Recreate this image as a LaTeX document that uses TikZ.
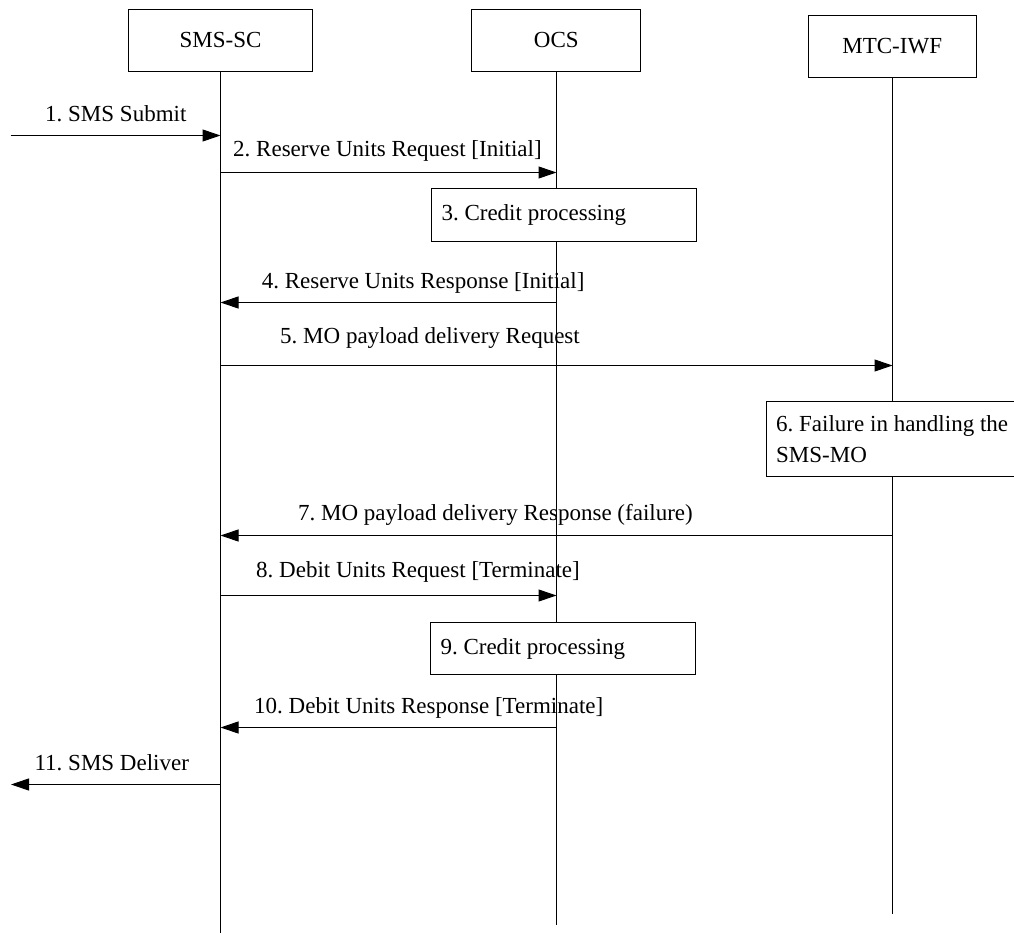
\documentclass[tikz,border=0pt]{standalone}
\usepackage{fontspec}
\setmainfont{Liberation Serif}
\usetikzlibrary{arrows.meta}
\begin{document}
\frenchspacing
\begin{tikzpicture}[x=1pt,y=-1pt,
  every node/.style={font=\frenchspacing\fontsize{23}{31}\selectfont, inner sep=0pt},
  party/.style={draw, line width=1pt, minimum height=62.5pt},
  life/.style={line width=1pt},
  msg/.style={line width=1pt, -{Triangle[length=18pt,width=12pt]}},
  procbox/.style={draw, fill=white, line width=1pt, anchor=north west, align=flush left, text width=245pt, inner xsep=10pt, minimum height=52.4pt},
  lbl/.style={anchor=base west},
  lble/.style={anchor=base east}]
\useasboundingbox (0,0) rectangle (1014,933);
\clip (0,0) rectangle (1014,933);

% participants
\node[party, minimum width=183.3pt] (sc) at (220.5,40.5) {SMS-SC};
\node[party, minimum width=168.7pt] (ocs) at (556.3,40.4) {OCS};
\node[party, minimum width=167.7pt] (iwf) at (892.2,46.4) {MTC-IWF};

% lifeline ends
\coordinate (scEnd) at (220.5,933);
\coordinate (ocsEnd) at (556.5,924.7);
\coordinate (iwfEnd) at (892.5,914);
\draw[life] (sc.south -| scEnd) -- (scEnd);
\draw[life] (ocs.south -| ocsEnd) -- (ocsEnd);
\draw[life] (iwf.south -| iwfEnd) -- (iwfEnd);

% processing boxes
\node[procbox] (p3) at (431,188.3) {3. Credit processing};
\node[procbox] (p9) at (430,622) {9. Credit processing};
\node[draw, fill=white, line width=1pt, anchor=west, align=flush left, text width=250pt, inner xsep=9.7pt, minimum height=75pt] (p6) at (766,439.2) {6. Failure in handling the\\SMS-MO};

% message end points
\coordinate (in1) at (10.7,135.5);
\coordinate (a1) at (220.5,135.5);
\coordinate (a2s) at (220.5,172.5); \coordinate (a2e) at (556.5,172.5);
\coordinate (a4s) at (556.5,302.5); \coordinate (a4e) at (220.5,302.5);
\coordinate (a5s) at (220.5,365.5); \coordinate (a5e) at (892.5,365.5);
\coordinate (a7s) at (892.5,535.5); \coordinate (a7e) at (220.5,535.5);
\coordinate (a8s) at (220.5,595.5); \coordinate (a8e) at (556.5,595.5);
\coordinate (a10s) at (556.5,727.5); \coordinate (a10e) at (220.5,727.5);
\coordinate (a11s) at (220.5,784.5); \coordinate (out11) at (11,784.5);

\draw[msg] (in1) -- (a1);
\draw[msg] (a2s) -- (a2e);
\draw[msg] (a4s) -- (a4e);
\draw[msg] (a5s) -- (a5e);
\draw[msg] (a7s) -- (a7e);
\draw[msg] (a8s) -- (a8e);
\draw[msg] (a10s) -- (a10e);
\draw[msg] (a11s) -- (out11);

% labels
\node[lbl] (l1) at (45,121.7) {1. SMS Submit};
\node[lbl] (l2) at (233,157) {2. Reserve Units Request [Initial]};
\node[lbl] (l4) at (261.7,288) {4. Reserve Units Response [Initial]};
\node[lbl] (l5) at (280,343) {5. MO payload delivery Request};
\node[lble] (l7) at (693,520) {7. MO payload delivery Response (failure)};
\node[lbl] (l8) at (256,577) {8. Debit Units Request [Terminate]};
\node[lbl] (l10) at (254,713) {10. Debit Units Response [Terminate]};
\node[lbl] (l11) at (34.4,770.7) {11. SMS Deliver};
\end{tikzpicture}
\end{document}
